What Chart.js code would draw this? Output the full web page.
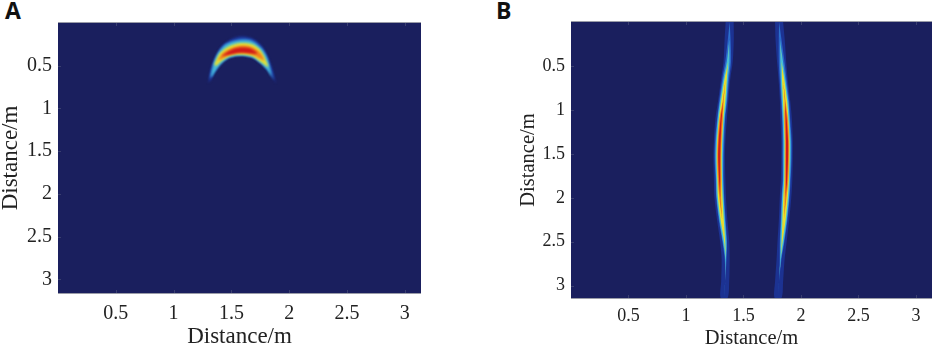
<!DOCTYPE html>
<html>
<head>
<meta charset="utf-8">
<title>Distance maps</title>
<script src="https://cdn.jsdelivr.net/npm/chart.js@4/dist/chart.umd.min.js"></script>
<style>
  html, body { margin: 0; padding: 0; background: #fff; }
  body { width: 941px; height: 351px; position: relative; overflow: hidden; }
  canvas { position: absolute; top: 0; }
  #chartA { left: 0; }
  #chartB { left: 516px; }
  .panel { position: absolute; top: -6px; font: bold 23px "Open Sans", sans-serif; color: #111; }
</style>
</head>
<body>
<div class="panel" style="left:5px">A</div>
<div class="panel" style="left:496px">B</div>
<canvas id="chartA" width="470" height="351"></canvas>
<canvas id="chartB" width="425" height="351"></canvas>
<script>
// ================= DATA =================
const tickValues = [0.5, 1, 1.5, 2, 2.5, 3];
const axisTitle = "Distance/m";

// Panel A: intensity contours of the arch, [distance x, distance y]
const archGlow = [[1.30,.703],[1.32,.546],[1.358,.41],[1.416,.281],[1.488,.195],[1.574,.156],[1.675,.176],[1.762,.265],[1.819,.41],[1.857,.546],[1.883,.703],[1.857,.632],[1.811,.546],[1.747,.461],[1.675,.398],[1.574,.379],[1.488,.402],[1.416,.468],[1.358,.566],[1.329,.656]];
const archBlue = [[1.31,.66],[1.335,.5],[1.375,.365],[1.44,.25],[1.574,.185],[1.68,.2],[1.76,.285],[1.812,.41],[1.865,.66],[1.811,.546],[1.747,.461],[1.675,.398],[1.574,.379],[1.488,.402],[1.416,.468],[1.358,.566],[1.329,.63]];
const archCyan = [[1.323,.625],[1.349,.47],[1.39,.345],[1.459,.25],[1.574,.205],[1.675,.215],[1.755,.295],[1.805,.4],[1.845,.62],[1.811,.546],[1.747,.461],[1.675,.398],[1.574,.379],[1.488,.402],[1.416,.468],[1.358,.566],[1.329,.63]];
const archYellow = [[1.35,.49],[1.395,.36],[1.468,.28],[1.574,.235],[1.68,.25],[1.755,.325],[1.82,.51],[1.79,.49],[1.733,.435],[1.675,.387],[1.574,.37],[1.488,.387],[1.416,.445],[1.372,.5]];
const archOrange = [[1.38,.44],[1.425,.355],[1.488,.3],[1.574,.265],[1.675,.28],[1.75,.35],[1.785,.44],[1.747,.415],[1.675,.368],[1.574,.352],[1.488,.37],[1.416,.42]];
const archRed = [[1.415,.39],[1.488,.322],[1.574,.288],[1.665,.298],[1.725,.355],[1.675,.356],[1.574,.347],[1.488,.368]];

// Panel B: two vertical ridges, sampled at these depths
const ridgeDepth = [0, .2, .45, .65, .9, 1.1, 1.35, 1.55, 1.8, 2, 2.25, 2.5, 2.7, 2.95, 3.14];
const ridgeLeft = [1.38, 1.376, 1.367, 1.345, 1.324, 1.306, 1.293, 1.289, 1.293, 1.298, 1.315, 1.337, 1.345, 1.341, 1.332];
const ridgeRight = [1.81, 1.819, 1.832, 1.845, 1.862, 1.871, 1.879, 1.879, 1.875, 1.866, 1.853, 1.836, 1.823, 1.81, 1.801];
// half widths of each intensity level at those depths
const ridgeGlow = [.035, .04, .04, .04, .045, .05, .05, .05, .05, .05, .045, .04, .035, .035, .03];
const ridgeBlue = [0, .012, .025, .03, .035, .035, .04, .04, .035, .035, .03, .02, .008, 0, 0];
const ridgeCyan = [0, 0, .012, .02, .028, .03, .032, .032, .03, .03, .024, .015, .003, 0, 0];
const ridgeYellow = [0, 0, 0, .01, .018, .02, .022, .022, .02, .02, .014, .004, 0, 0, 0];
const ridgeOrange = [0, 0, 0, 0, .004, .015, .017, .017, .015, .008, 0, 0, 0, 0, 0];
const ridgeRed = [0, 0, 0, 0, 0, .005, .009, .009, .005, 0, 0, 0, 0, 0, 0];

// ================= COLOURS =================
const NAVY = "#1a1f5e";
const GLOW = "#1c3292";
const BLUE = "#2a66c8";
const CYAN = "#45bcd8";
const YELLOW = "#e6e032";
const ORANGE = "#f0801e";
const RED = "#d01818";

// ================= DATASET HELPERS =================
function band(points, color) {
  return {
    data: points.map(([x, y]) => ({ x, y })),
    showLine: true,
    fill: "shape",
    backgroundColor: color,
    borderWidth: 0,
    pointRadius: 0,
    tension: 0.3
  };
}

function ridgeBand(center, half, color) {
  const down = ridgeDepth.map((d, i) => [center[i] - half[i], d]);
  const up = ridgeDepth.map((d, i) => [center[i] + half[i], d]).reverse();
  return band(down.concat(up), color);
}

// Chart.js paints the first dataset last, so hottest level goes first
function ridgeBands(center) {
  return [
    ridgeBand(center, ridgeRed, RED),
    ridgeBand(center, ridgeOrange, ORANGE),
    ridgeBand(center, ridgeYellow, YELLOW),
    ridgeBand(center, ridgeCyan, CYAN),
    ridgeBand(center, ridgeBlue, BLUE),
    ridgeBand(center, ridgeGlow, GLOW)
  ];
}

// ================= PLOT FRAME PLUGIN =================
const framePlugin = {
  id: "frame",
  beforeDraw(chart) {
    const { ctx, chartArea: a } = chart;
    ctx.save();
    ctx.fillStyle = NAVY;
    ctx.fillRect(a.left, a.top, a.width, a.height);
    ctx.restore();
  },
  beforeDatasetsDraw(chart) {
    chart.ctx.filter = "blur(" + chart.options.plugins.frame.blur + "px)";
  },
  afterDatasetsDraw(chart) {
    const { ctx, chartArea: a, scales } = chart;
    ctx.filter = "none";
    ctx.save();
    ctx.strokeStyle = "#3a3f70";
    ctx.lineWidth = 1;
    ctx.beginPath();
    tickValues.forEach(v => {
      const x = Math.round(scales.x.getPixelForValue(v)) + 0.5;
      ctx.moveTo(x, a.bottom);
      ctx.lineTo(x, a.bottom - 3);
      ctx.moveTo(x, a.top);
      ctx.lineTo(x, a.top + 3);
      const y = Math.round(scales.y.getPixelForValue(v)) + 0.5;
      ctx.moveTo(a.left, y);
      ctx.lineTo(a.left + 3, y);
    });
    ctx.stroke();
    ctx.strokeStyle = "#9a9ca8";
    ctx.beginPath();
    ctx.moveTo(a.left, a.bottom + 0.5);
    ctx.lineTo(a.right, a.bottom + 0.5);
    ctx.moveTo(a.left, a.top - 0.5);
    ctx.lineTo(a.right, a.top - 0.5);
    ctx.stroke();
    ctx.restore();
  }
};

// ================= CHART SETUP =================
function makeChart(id, datasets, cfg) {
  const setTicks = scale => {
    scale.ticks = tickValues.map(value => ({ value }));
  };
  const font = { family: "'Liberation Serif', serif" };
  return new Chart(document.getElementById(id), {
    type: "scatter",
    data: { datasets },
    options: {
      responsive: false,
      animation: false,
      events: [],
      layout: { padding: { top: cfg.top, right: cfg.right, left: 0, bottom: 0 } },
      plugins: {
        legend: { display: false },
        tooltip: { enabled: false },
        frame: { blur: cfg.blur }
      },
      scales: {
        x: {
          type: "linear",
          min: 0,
          max: cfg.xMax,
          grid: { display: false, drawTicks: false },
          border: { display: false },
          afterBuildTicks: setTicks,
          afterFit: s => { s.height = cfg.axisHeight; },
          ticks: {
            color: "#222",
            padding: cfg.xTickPad,
            maxRotation: 0,
            autoSkip: false,
            callback: v => String(v),
            font: { ...font, size: cfg.tickSize }
          },
          title: {
            display: true,
            text: axisTitle,
            color: "#222",
            padding: 0,
            font: { ...font, size: cfg.titleSize }
          }
        },
        y: {
          type: "linear",
          reverse: true,
          min: 0,
          max: cfg.yMax,
          grid: { display: false, drawTicks: false },
          border: { display: false },
          afterBuildTicks: setTicks,
          afterFit: s => { s.width = cfg.axisWidth; },
          ticks: {
            color: "#222",
            padding: cfg.yTickPad,
            autoSkip: false,
            callback: v => String(v),
            font: { ...font, size: cfg.tickSize }
          },
          title: {
            display: true,
            text: axisTitle,
            color: "#222",
            padding: { top: cfg.yTitlePad, bottom: 0 },
            font: { ...font, size: cfg.titleSize }
          }
        }
      }
    },
    plugins: [framePlugin]
  });
}

makeChart("chartA", [
  band(archRed, RED),
  band(archOrange, ORANGE),
  band(archYellow, YELLOW),
  band(archCyan, CYAN),
  band(archBlue, BLUE),
  band(archGlow, GLOW)
], {
  top: 23, right: 49, axisWidth: 58, axisHeight: 58, xMax: 3.14, yMax: 3.158,
  tickSize: 20, titleSize: 23, xTickPad: 9, yTickPad: 6, yTitlePad: -3, blur: 1
});

makeChart("chartB", ridgeBands(ridgeLeft).concat(ridgeBands(ridgeRight)), {
  top: 22, right: 9, axisWidth: 55, axisHeight: 53, xMax: 3.14, yMax: 3.14,
  tickSize: 18, titleSize: 20.5, xTickPad: 7, yTickPad: 6, yTitlePad: 0, blur: 0.7
});
</script>
</body>
</html>
